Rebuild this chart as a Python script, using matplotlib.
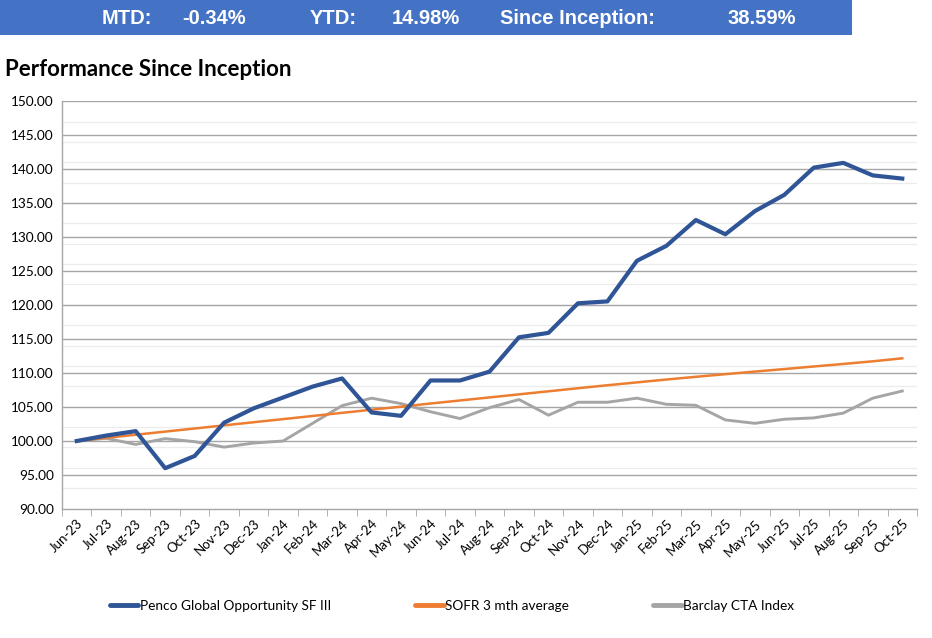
import matplotlib.pyplot as plt
from matplotlib.patches import Rectangle
import numpy as np

# Monthly index values, base 100 at inception
months = ['Jun-23', 'Jul-23', 'Aug-23', 'Sep-23', 'Oct-23', 'Nov-23', 'Dec-23',
          'Jan-24', 'Feb-24', 'Mar-24', 'Apr-24', 'May-24', 'Jun-24', 'Jul-24',
          'Aug-24', 'Sep-24', 'Oct-24', 'Nov-24', 'Dec-24', 'Jan-25', 'Feb-25',
          'Mar-25', 'Apr-25', 'May-25', 'Jun-25', 'Jul-25', 'Aug-25', 'Sep-25', 'Oct-25']
penco = [100.00, 100.80, 101.45, 96.00, 97.80, 102.70, 104.80, 106.40, 108.00, 109.20,
         104.20, 103.70, 108.90, 108.90, 110.20, 115.25, 115.90, 120.25, 120.53, 126.50,
         128.70, 132.50, 130.40, 133.80, 136.20, 140.20, 140.90, 139.06, 138.59]
sofr = [100.00, 100.46, 100.92, 101.38, 101.84, 102.30, 102.76, 103.22, 103.68, 104.14,
        104.60, 105.05, 105.51, 105.96, 106.41, 106.86, 107.31, 107.76, 108.20, 108.62,
        109.04, 109.44, 109.83, 110.21, 110.58, 110.96, 111.33, 111.72, 112.16]
barclay = [100.00, 100.40, 99.50, 100.35, 99.90, 99.10, 99.70, 100.00, 102.60, 105.20,
           106.30, 105.50, 104.30, 103.30, 104.90, 106.10, 103.80, 105.70, 105.70, 106.30,
           105.40, 105.25, 103.10, 102.60, 103.20, 103.40, 104.10, 106.30, 107.35]

header_labels = ['MTD:', '-0.34%', 'YTD:', '14.98%', 'Since Inception:', '38.59%']
header_x = [102, 182, 310, 392, 500, 728]

fig = plt.figure(figsize=(9.32, 6.38), dpi=100)
W, H = 932, 638

# header bar
fig.patches.append(Rectangle((0, 1 - 35 / H), 852 / W, 35 / H, transform=fig.transFigure,
                             facecolor='#4472C4', edgecolor='none'))
for lab, xp in zip(header_labels, header_x):
    fig.text(xp / W, 1 - 18 / H, lab, color='white', fontsize=14.5, fontweight='bold',
             family='Liberation Sans', va='center', ha='left')

fig.text(5 / W, 1 - 70 / H, 'Performance Since Inception', fontsize=16, fontweight='bold',
         family='Lato', va='center', ha='left')

ax = fig.add_axes([62 / W, 1 - 509 / H, 855 / W, 408 / H])
x = np.arange(len(months))

# faint worksheet row lines behind the chart
for yv in np.arange(146.96, 91, -2.993):
    ax.axhline(yv, color='#ececec', lw=0.9, zorder=0)
for yv in range(95, 151, 5):
    ax.axhline(yv, color='#a6a6a6', lw=1.0, zorder=1)

ax.plot(x, penco, color='#2F5597', lw=3.0, solid_joinstyle='round', zorder=5,
        label='Penco Global Opportunity SF III')
ax.plot(x, sofr, color='#ED7D31', lw=1.8, zorder=4, label='SOFR 3 mth average')
ax.plot(x, barclay, color='#A5A5A5', lw=2.1, zorder=3, label='Barclay CTA Index')

ax.set_xlim(-0.5, len(months) - 0.5)
ax.set_ylim(90, 150)
ax.set_yticks(range(90, 151, 5))
ax.set_yticklabels([f'{v:.2f}' for v in range(90, 151, 5)], family='Lato', fontsize=9.8)
ax.tick_params(axis='y', length=0, pad=6)

ax.set_xticks(x)
ax.set_xticklabels(months, rotation=45, ha='right', rotation_mode='anchor',
                   family='Lato', fontsize=9.5)
ax.tick_params(axis='x', which='major', length=0, pad=6)
ax.set_xticks(np.arange(-0.5, len(months), 1), minor=True)
ax.tick_params(axis='x', which='minor', length=5, color='#a6a6a6', direction='out')

for s in ['top', 'right']:
    ax.spines[s].set_visible(False)
for s in ['left', 'bottom']:
    ax.spines[s].set_color('#a6a6a6')
    ax.spines[s].set_linewidth(1.0)

leg = fig.legend(loc='center', bbox_to_anchor=(452 / W, 1 - 606 / H), ncol=3,
                 frameon=False, handlelength=2.1, handletextpad=0.1, columnspacing=6.2,
                 prop={'family': 'Lato', 'size': 9.8})
for line in leg.get_lines():
    line.set_linewidth(3.5)
    line.set_solid_capstyle('round')

fig.savefig('out.png', dpi=100)
